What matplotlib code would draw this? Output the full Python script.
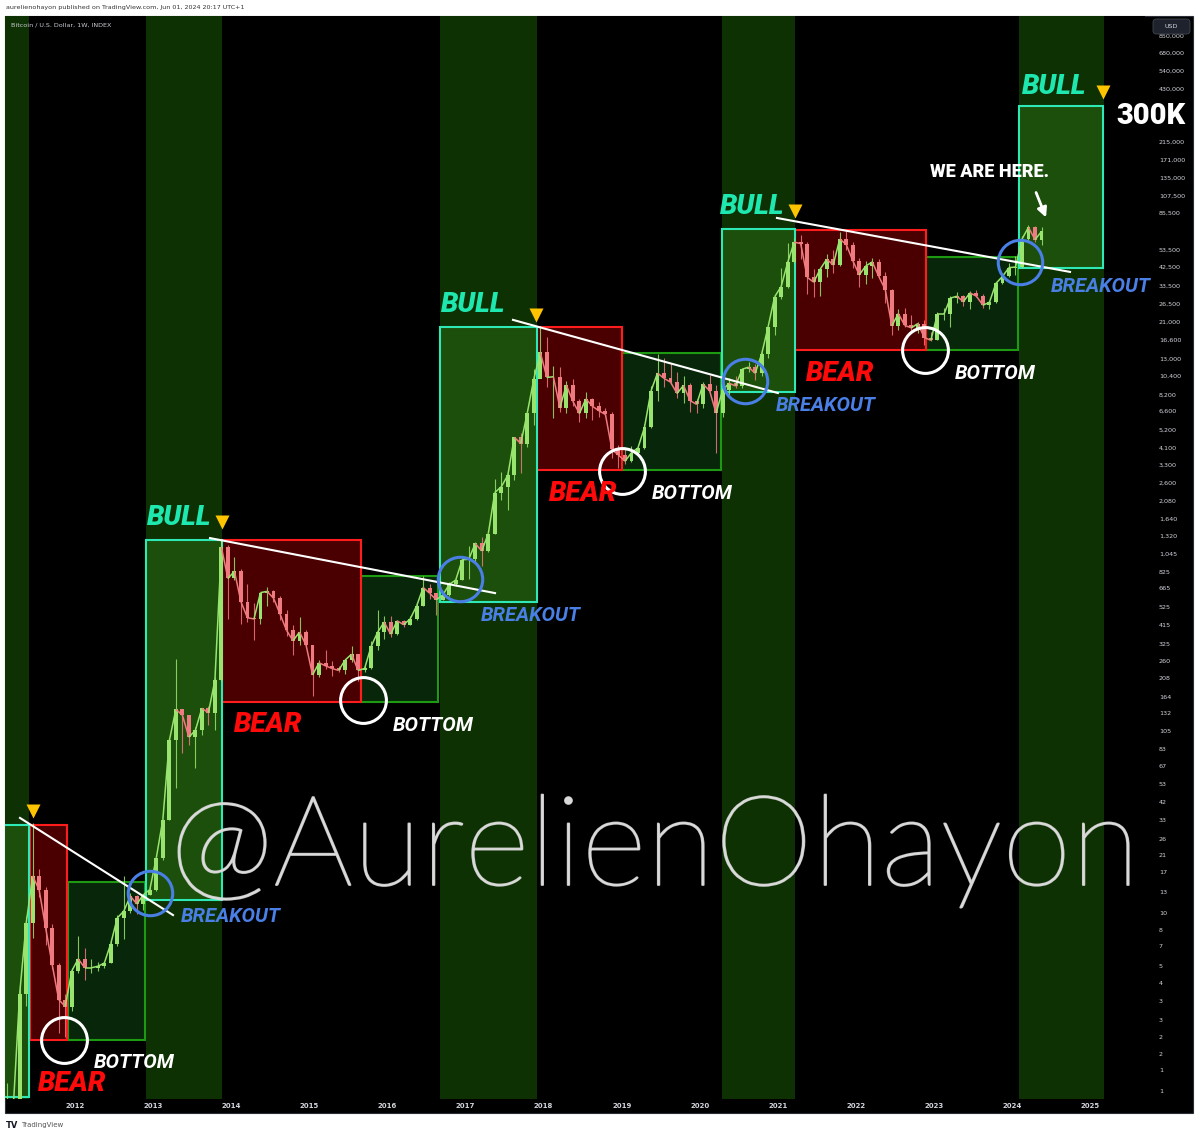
import numpy as np
import pandas as pd
import matplotlib
matplotlib.use('Agg')
import matplotlib.pyplot as plt
import matplotlib.patheffects as pe
from matplotlib.patches import Rectangle, FancyBboxPatch
from matplotlib.collections import LineCollection


#=== Monthly BTC candles (USD), Jan 2011 .. May 2024 ===
close = [
    0.52, 0.86, 0.78, 3.5, 8.7, 16.1, 13.4, 8.2, 5.1, 3.25, 2.97, 4.7,                   # 2011
    5.5, 4.9, 4.9, 5.0, 5.2, 6.7, 9.35, 10.2, 12.4, 11.2, 12.6, 13.5,                    # 2012
    20.4, 33.4, 93, 139, 129, 97, 106, 141, 133, 203, 1130, 757,                         # 2013
    830, 560, 455, 448, 630, 640, 587, 478, 387, 338, 378, 320,                          # 2014
    217, 254, 244, 236, 230, 263, 284, 230, 236, 314, 377, 430,                          # 2015
    368, 437, 416, 448, 531, 673, 624, 575, 609, 700, 742, 964,                          # 2016
    970, 1190, 1080, 1350, 2300, 2480, 2875, 4700, 4340, 6470, 10000, 14100,             # 2017
    10200, 10300, 6900, 9240, 7490, 6400, 7730, 7030, 6630, 6320, 4020, 3740,            # 2018
    3450, 3850, 4100, 5350, 8570, 10800, 10080, 9600, 8300, 9200, 7570, 7200,            # 2019
    9350, 8600, 6440, 8660, 9460, 9140, 11350, 11660, 10780, 13800, 19700, 29000,        # 2020
    33100, 45200, 58800, 57700, 37300, 35000, 41500, 47100, 43800, 61300, 57000, 46300,  # 2021
    38500, 43200, 45500, 37700, 31800, 19900, 23300, 20000, 19400, 20500, 17100, 16500,  # 2022
    23100, 23100, 28500, 29200, 27200, 30500, 29200, 26000, 27000, 34500, 37700, 42300,  # 2023
    42600, 61200, 71300, 60700, 67500,                                                   # 2024
]
high = [
    0.52, 1.1, 0.95, 3.9, 9.6, 32, 17.5, 13.9, 8.6, 5.2, 3.5, 4.9,
    7.4, 6.3, 5.5, 5.3, 5.3, 6.9, 9.65, 16.0, 12.9, 12.5, 12.8, 13.9,
    20.6, 33.5, 95, 266, 140, 130, 111, 142, 145, 212, 1240, 1160,
    1000, 850, 700, 550, 630, 680, 650, 600, 500, 415, 460, 390,
    320, 265, 300, 260, 245, 268, 315, 285, 245, 335, 500, 465,
    465, 440, 440, 465, 550, 780, 700, 630, 620, 720, 755, 975,
    1150, 1210, 1300, 1350, 2750, 3000, 2950, 4750, 5000, 6500, 11400, 19800,
    17200, 11800, 11700, 9800, 10000, 7760, 8500, 7780, 7420, 6850, 6550, 4250,
    4100, 4200, 4150, 5600, 9100, 13880, 13200, 12300, 10900, 10350, 9500, 7750,
    9600, 10500, 9200, 9450, 10070, 10400, 11450, 12470, 12100, 14100, 19900, 29300,
    41900, 58300, 61800, 64900, 59000, 41300, 42300, 50500, 52900, 67000, 69000, 59100,
    47900, 45800, 48200, 47400, 39900, 31900, 24700, 25200, 22800, 21000, 21400, 18400,
    23900, 25200, 29200, 31000, 29800, 31400, 31800, 30200, 27500, 35200, 38400, 44700,
    48900, 64000, 73800, 72800, 71900,
]
low = [
    0.29, 0.77, 0.67, 0.77, 3.0, 7.2, 12.3, 6.6, 4.8, 2.1, 2.0, 2.8,
    4.6, 4.2, 4.6, 4.7, 4.9, 5.2, 6.5, 7.1, 9.9, 9.8, 10.4, 12.5,
    13.3, 19.7, 33, 50, 79, 88, 65, 100, 113, 106, 200, 450,
    740, 420, 430, 340, 420, 530, 560, 440, 360, 280, 320, 310,
    165, 210, 235, 215, 225, 220, 255, 200, 225, 235, 300, 345,
    355, 365, 405, 413, 440, 530, 580, 470, 570, 605, 690, 740,
    750, 920, 890, 1060, 1340, 2100, 1830, 2700, 2980, 4150, 5500, 10700,
    9000, 6000, 6550, 6450, 7050, 5750, 6050, 5900, 6100, 6160, 3600, 3150,
    3350, 3400, 3800, 4050, 5330, 7500, 9000, 9400, 7800, 7300, 6500, 6450,
    6850, 8450, 3850, 6150, 8100, 8900, 8950, 10900, 9900, 10400, 13200, 17600,
    28100, 32300, 45000, 47000, 30000, 28800, 29300, 37600, 39600, 43300, 53300, 42000,
    32900, 34300, 37200, 37600, 26700, 17600, 18800, 19600, 18200, 18200, 15500, 16300,
    16500, 21400, 19600, 26900, 25800, 24800, 28900, 25200, 24900, 26600, 34100, 37600,
    38500, 41900, 59000, 59200, 56600,
]
first_open = 0.30

#=== Cycle annotations (decimal year, USD) ===
cycle_bands = [(2011.104, 2011.411), (2012.909, 2013.882), (2016.673, 2017.915),
               (2020.284, 2021.219), (2024.087, 2025.175)]
bull_boxes = [(2011.091, 2011.411, 0.92, 31.1), (2012.909, 2013.882, 11.8, 1245),
              (2016.673, 2017.915, 558, 19600), (2020.284, 2021.219, 8450, 69700),
              (2024.087, 2025.163, 42100, 343000)]
bear_boxes = [(2011.424, 2011.898, 1.93, 31.1), (2013.882, 2015.662, 153, 1245),
              (2017.915, 2019.004, 3080, 19600), (2021.219, 2022.896, 14560, 68900)]
accum_boxes = [(2011.910, 2012.896, 1.93, 14.9), (2015.662, 2016.648, 153, 781),
               (2019.004, 2020.271, 3080, 14000), (2022.896, 2024.074, 14560, 48500)]
trendlines = [((2011.296, 34.1), (2013.255, 9.7)), ((2013.729, 1276), (2017.378, 626)),
              ((2017.608, 21500), (2021.000, 8340)), ((2020.988, 80400), (2024.740, 40000))]
breakout_pts = [(2012.960, 12.9), (2016.930, 752), (2020.579, 9750), (2024.100, 45500)]
bottom_pts = [(2011.859, 1.93), (2015.688, 157), (2019.004, 3040), (2022.883, 14560)]
top_marks = [(2011.462, 37.3), (2013.882, 1570), (2017.903, 22900), (2021.219, 87900), (2025.163, 410000)]
bull_labels = [(2013.330, 1655), (2017.096, 26400), (2020.668, 92700), (2024.535, 443000)]
bear_labels = [(2011.962, 1.09), (2014.471, 115), (2018.504, 2260), (2021.795, 10700)]
bottom_labels = [(2012.755, 1.43), (2016.584, 113.5), (2019.900, 2260), (2023.780, 10800)]
breakout_labels = [(2013.997, 9.46), (2017.839, 466), (2021.616, 7140), (2025.137, 33300)]

year_ticks = list(range(2012, 2026))
price_ticks = [1, 1.3, 1.6, 2, 2.5, 3.2, 4, 5, 6.5, 8, 10, 13, 17, 21, 26, 33, 42, 53, 67, 83,
               105, 132, 164, 208, 260, 325, 415, 525, 665, 825, 1045, 1320, 1640, 2080, 2600,
               3300, 4100, 5200, 6600, 8200, 10400, 13000, 16600, 21000, 26500, 33500, 42500,
               53500, 85500, 107500, 135000, 171000, 215000, 430000, 540000, 680000, 850000]
small_labels = ['1', '1', '2', '2', '3', '3', '4', '5', '7', '8']

#=== colours ===
BAND = '#0d3102'
BULL_FILL = '#1b4f0b'
BULL_EDGE = '#2ee8b6'
BEAR_FILL = '#4a0000'
BEAR_EDGE = '#ff1c1c'
ACC_FILL = '#08260a'
ACC_EDGE = '#1e9a12'
UP = '#98e46e'
DOWN = '#ef7a80'
BLUE = '#4a7fe6'
MINT = '#1ee8b0'
LABEL_FONT = ['Roboto', 'DejaVu Sans']

W, H = 1200, 1135
fig = plt.figure(figsize=(W / 100, H / 100), dpi=100, facecolor='white')

# black TradingView panel (behind the axes)
fig.patches.append(Rectangle((5 / W, 1 - 1113 / H), 1188 / W, 1097 / H, transform=fig.transFigure,
                             facecolor='black', edgecolor='#2a2e39', lw=0.8, zorder=-5))

ax = fig.add_axes([5 / W, 1 - 1099 / H, 1140 / W, 1083 / H])
ax.set_facecolor('black')
ax.set_yscale('log')
ax.set_xlim(2011.104, 2025.70)
ax.set_ylim(0.897, 1.098e6)
for s in ax.spines.values():
    s.set_visible(False)

for x0, x1 in cycle_bands:
    ax.axvspan(x0, x1, color=BAND, lw=0, zorder=0)

for x0, x1, lo, hi in accum_boxes:
    ax.add_patch(Rectangle((x0, lo), x1 - x0, hi - lo, facecolor=ACC_FILL, edgecolor=ACC_EDGE, lw=1.5, zorder=1))
for x0, x1, lo, hi in bear_boxes:
    ax.add_patch(Rectangle((x0, lo), x1 - x0, hi - lo, facecolor=BEAR_FILL, edgecolor=BEAR_EDGE, lw=1.5, zorder=1))
for x0, x1, lo, hi in bull_boxes:
    ax.add_patch(Rectangle((x0, lo), x1 - x0, hi - lo, facecolor=BULL_FILL, edgecolor=BULL_EDGE, lw=1.5, zorder=1))

#=== candles ===
dates = pd.date_range('2011-01-01', periods=len(close), freq='MS')
xs = dates.year + (dates.month - 0.5) / 12
c = np.array(close, dtype=float)
o = np.concatenate([[first_open], c[:-1]])
up = c >= o
cols = np.where(up, UP, DOWN)
ax.vlines(xs, low, high, colors=cols, lw=0.8, alpha=0.85, zorder=2)
ax.bar(xs, np.abs(c - o), bottom=np.minimum(o, c), width=0.05, color=cols, lw=0, zorder=3)
# close-to-close path so the monthly candles read as a continuous price track
segs = [[(xs[i - 1], c[i - 1]), (xs[i], c[i])] for i in range(1, len(c))]
ax.add_collection(LineCollection(segs, colors=cols[1:], lw=1.1, zorder=3))

#=== trendlines, circles, markers ===
for (x0, p0), (x1, p1) in trendlines:
    ax.plot([x0, x1], [p0, p1], color='white', lw=1.5, zorder=4)
for x, p in breakout_pts:
    ax.plot(x, p, 'o', ms=32, mfc='none', mec=BLUE, mew=2.2, zorder=5)
for x, p in bottom_pts:
    ax.plot(x, p, 'o', ms=33, mfc='none', mec='white', mew=2.2, zorder=5)
for x, p in top_marks:
    ax.plot(x, p, 'v', ms=10, color='#ffc400', mec='none', zorder=5, clip_on=False)

for x, p in bull_labels:
    ax.text(x, p, 'BULL', color=MINT, fontsize=20, fontweight='black', style='italic',
            family=LABEL_FONT, ha='center', va='center', zorder=6)
for x, p in bear_labels:
    ax.text(x, p, 'BEAR', color='#ff0a0a', fontsize=20, fontweight='black', style='italic',
            family=LABEL_FONT, ha='center', va='center', zorder=6)
for x, p in bottom_labels:
    ax.text(x, p, 'BOTTOM', color='white', fontsize=14.5, fontweight='bold', style='italic',
            family=LABEL_FONT, ha='center', va='center', zorder=6)
for x, p in breakout_labels:
    ax.text(x, p, 'BREAKOUT', color=BLUE, fontsize=14.5, fontweight='bold', style='italic',
            family=LABEL_FONT, ha='center', va='center', zorder=6, clip_on=False)

ax.text(2023.703, 146000, 'WE ARE HERE.', color='white', fontsize=13, fontweight='black',
        family=LABEL_FONT, ha='center', va='center', zorder=6)
ax.text(2025.777, 301000, '300K', color='white', fontsize=21, fontweight='black',
        family=LABEL_FONT, ha='center', va='center', zorder=6, clip_on=False)
ax.annotate('', xy=(2024.446, 78300), xytext=(2024.292, 115600),
            arrowprops=dict(arrowstyle='-|>', color='white', lw=2, mutation_scale=14), zorder=6)

#=== axes ===
ax.set_xticks(year_ticks)
ax.set_xticklabels([str(y) for y in year_ticks])
ax.tick_params(axis='x', length=0, pad=3, labelsize=5, labelcolor='#d1d4dc')
for t in ax.get_xticklabels():
    t.set_fontweight('bold')
ax.yaxis.tick_right()
ax.set_yticks(price_ticks)
ax.set_yticklabels(small_labels + [f'{v:,}' for v in price_ticks[len(small_labels):]])
ax.yaxis.set_minor_locator(matplotlib.ticker.NullLocator())
ax.tick_params(axis='y', length=0, pad=10, labelsize=4.6, labelcolor='#d1d4dc')

# USD button
fig.patches.append(FancyBboxPatch((1153 / W, 1 - 34 / H), 37 / W, 15 / H, boxstyle='round,pad=0,rounding_size=0.003',
                                  transform=fig.transFigure, facecolor='#1e222d', edgecolor='#434651', lw=0.6, zorder=3))
fig.text(1171 / W, 1 - 26.5 / H, 'USD', color='#d1d4dc', fontsize=4.6, ha='center', va='center', zorder=4)

# header / footer
fig.text(6 / W, 1 - 8 / H, 'aurelienohayon published on TradingView.com, Jun 01, 2024 20:17 UTC+1',
         color='#333333', fontsize=4.6, ha='left', va='center')
fig.text(11 / W, 1 - 25 / H, 'Bitcoin / U.S. Dollar, 1W, INDEX', color='#c8cbd3', fontsize=4.6,
         ha='left', va='center', zorder=5)
fig.text(6 / W, 1 - 1125 / H, 'TV', color='#131722', fontsize=6, fontweight='black', ha='left', va='center')
fig.text(21 / W, 1 - 1125 / H, 'TradingView', color='#555555', fontsize=5, ha='left', va='center')

# watermark, scaled to span the chart
wm = fig.text(170 / W, 1 - 885 / H, '@AurelienOhayon', color='#dcdcdc', alpha=0.9, fontsize=90,
              family=['Lato', 'DejaVu Sans'], fontweight='light', ha='left', va='baseline', zorder=10,
              path_effects=[pe.withStroke(linewidth=1.3, foreground='#dcdcdc')])
fig.canvas.draw()
w = wm.get_window_extent(fig.canvas.get_renderer()).width
wm.set_fontsize(90 * 970 / w)

fig.savefig('out.png', dpi=100, facecolor='white')
